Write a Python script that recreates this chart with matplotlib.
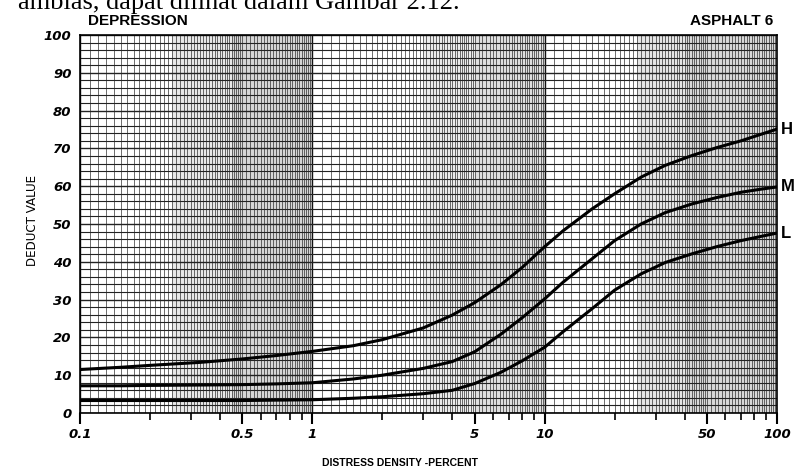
import numpy as np
import matplotlib
matplotlib.use("Agg")
import matplotlib.pyplot as plt
from matplotlib.ticker import FixedLocator, NullFormatter

# ---- data ----
density = [0.1, 0.15, 0.2, 0.33, 0.5, 0.7, 1, 1.5, 2, 3, 4, 5, 6.5, 8, 10, 12, 16, 20,
           26, 33, 43, 55, 70, 85, 100]
high    = [11.5, 12.1, 12.6, 13.4, 14.3, 15.2, 16.3, 17.8, 19.4, 22.5, 25.9, 29.2, 34.0,
           38.5, 44.0, 48.2, 54.0, 58.0, 62.4, 65.5, 68.1, 70.2, 72.0, 73.7, 75.1]
medium  = [7.2, 7.2, 7.3, 7.4, 7.5, 7.7, 8.0, 9.0, 10.0, 11.8, 13.6, 16.2, 20.9, 25.2,
           30.2, 34.6, 40.8, 45.6, 50.0, 53.0, 55.3, 57.0, 58.4, 59.2, 59.8]
low     = [3.3, 3.3, 3.3, 3.3, 3.3, 3.4, 3.5, 3.9, 4.3, 5.1, 6.0, 7.8, 10.8, 13.8,
           17.4, 21.5, 27.6, 32.5, 36.8, 39.8, 42.1, 44.0, 45.6, 46.7, 47.6]
curve_labels = ["H", "M", "L"]
xtick_values = [0.1, 0.5, 1, 5, 10, 50, 100]
xtick_labels = ["0.1", "0.5", "1", "5", "10", "50", "100"]
ytick_values = list(range(0, 101, 10))
title_left = "DEPRESSION"
title_right = "ASPHALT 6"
xlabel = "DISTRESS DENSITY -PERCENT"
ylabel = "DEDUCT VALUE"
caption = "amblas, dapat dilihat dalam Gambar 2.12."

W, H = 794, 470
fig = plt.figure(figsize=(W / 100, H / 100), dpi=100)
fig.patch.set_facecolor("white")

L, R, T, B = 80, 777, 35, 413
ax = fig.add_axes([L / W, 1 - B / H, (R - L) / W, (B - T) / H])
ax.set_xscale("log")
ax.set_xlim(0.1, 100)
ax.set_ylim(0, 100)

# scanned grey shading bands
for a, b, al in [(0.25, 0.45, 0.18), (0.45, 1.0, 0.32), (3.0, 5.0, 0.15), (5.0, 10.0, 0.25),
                 (25, 40, 0.2), (40, 100, 0.3)]:
    ax.axvspan(a, b, color="#808080", alpha=al, lw=0, zorder=0)

# graph paper grid
vlines = []
for dec in [0.1, 1, 10]:
    vlines += list(dec * np.arange(1.0, 2.0, 0.1))
    vlines += list(dec * np.arange(2.0, 5.0, 0.1))
    vlines += list(dec * np.arange(5.0, 10.0, 0.2))
for v in vlines:
    ax.axvline(v, color="#2a2a2a", lw=0.6, alpha=0.8, zorder=1)
for d in [0.1, 1, 10, 100]:
    ax.axvline(d, color="#111111", lw=1.0, zorder=1)
for yv in range(0, 101, 2):
    ax.axhline(yv, color="#222222", lw=0.8 if yv % 10 else 1.0, zorder=1)

for ys in (high, medium, low):
    ax.plot(density, ys, color="black", lw=2.2, zorder=3, solid_capstyle="round",
            solid_joinstyle="round")

for sp in ax.spines.values():
    sp.set_color("black")
    sp.set_linewidth(1.2)

ax.xaxis.set_major_locator(FixedLocator(xtick_values))
ax.set_xticklabels(xtick_labels)
minor = [d * k for d in [0.1, 1, 10] for k in range(2, 10) if k != 5]
ax.xaxis.set_minor_locator(FixedLocator(minor))
ax.xaxis.set_minor_formatter(NullFormatter())
ax.tick_params(axis="x", which="major", length=8, width=1.5, direction="out", pad=3,
               labelsize=9.5)
ax.tick_params(axis="x", which="minor", length=5, width=1.2, direction="out")
ax.set_yticks(ytick_values)
ax.tick_params(axis="y", length=0, pad=6, labelsize=9.5)
for lab in ax.get_xticklabels() + ax.get_yticklabels():
    lab.set_fontweight("bold")
    lab.set_fontstyle("italic")
    lab.set_family("DejaVu Sans")

# texts
fig.text(88 / W, 1 - 21 / H, title_left, fontsize=11, fontweight="heavy",
         family="Liberation Sans", va="center", ha="left")
fig.text(773 / W, 1 - 21 / H, title_right, fontsize=11, fontweight="heavy",
         family="Liberation Sans", va="center", ha="right")
fig.text(400 / W, 1 - 463 / H, xlabel, fontsize=7.5, fontweight="bold",
         family="Liberation Sans", va="center", ha="center")
fig.text(33 / W, 1 - 220 / H, ylabel, fontsize=9.5, rotation=90,
         family="DejaVu Sans", va="center", ha="center", fontstretch="condensed")

label_y = [high[-1], medium[-1], low[-1]]
for lab, yv in zip(curve_labels, label_y):
    ax.text(1.006, yv, lab, transform=ax.get_yaxis_transform(), fontsize=12,
            fontweight="bold", family="Liberation Sans", va="center", ha="left",
            clip_on=False)

fig.text(18 / W, 1 - 9 / H, caption, fontsize=19, family="Liberation Serif",
         va="baseline", ha="left")

fig.savefig("out.png", dpi=100)
